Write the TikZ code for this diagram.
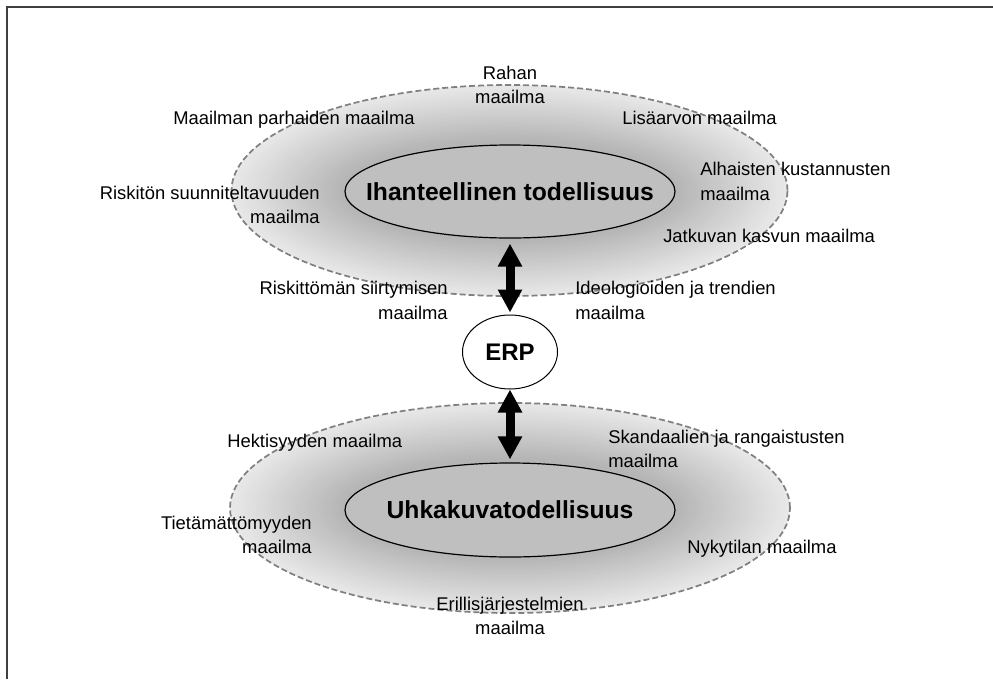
\documentclass[tikz,border=0pt]{standalone}
\usepackage{fontspec}
\setmainfont{Liberation Sans}
\usetikzlibrary{shapes.geometric,arrows.meta}
\begin{document}
\begin{tikzpicture}[x=0.75pt,y=-0.75pt,
  world/.style={ellipse, draw=black!50, line width=1.3pt,
    dash pattern=on 4.5pt off 2.25pt, inner sep=0pt},
  core/.style={ellipse, draw=black, line width=0.9pt, fill=black!25, inner sep=0pt},
  corelabel/.style={inner sep=0pt, font=\fontsize{18.5}{22}\selectfont\bfseries},
  hub/.style={ellipse, draw=black, line width=0.75pt, fill=white, inner sep=0pt},
  hublabel/.style={inner sep=0pt, font=\fontsize{18}{22}\selectfont\bfseries},
  lbl/.style={inner sep=0pt, font=\fontsize{13.8}{18.5}\selectfont},
  bigarrow/.style={line width=6.75pt,
    {Triangle[length=17.25pt,width=17.25pt]}-{Triangle[length=17.25pt,width=17.25pt]}},
  frame/.style={draw=black!75, line width=1.5pt}]
\useasboundingbox (0,0) rectangle (993,679);

% open frame along the left and top edges
\coordinate (fa) at (7,679);
\coordinate (fb) at (7,7);
\coordinate (fc) at (993,7);
\draw[frame] (fa) -- (fb) -- (fc);

\coordinate (idealc) at (509.5,190.5);
\coordinate (threatc) at (510,508);

% gray halo around each core: nested ellipses, light at the rim, darker inward
\foreach \c/\ox/\oy in {idealc/208.5/79.1, threatc/210/78.75}{
  \foreach \i in {0,...,30}{
    \pgfmathsetmacro\f{\i/30}
    \pgfmathsetmacro\rx{\ox - \f*(\ox-126)}
    \pgfmathsetmacro\ry{\oy - \f*(\oy-38)}
    \pgfmathsetmacro\g{9 + \f*20}
    \fill[black!\g] (\c) ellipse [x radius=\rx pt, y radius=\ry pt];
  }
}

% upper world
\node[world, minimum width=417pt, minimum height=158.25pt] (ideal) at (idealc) {};
\node[core, minimum width=247.5pt, minimum height=69.75pt] (ihan) at (510,191.5) {};
\node[corelabel] (ihanlbl) at (ihan.center) {Ihanteellinen todellisuus};

% lower world
\node[world, minimum width=420pt, minimum height=157.5pt] (threat) at (threatc) {};
\node[core, minimum width=247.5pt, minimum height=70.5pt] (uhka) at (510,510) {};
\node[corelabel] (uhkalbl) at (uhka.center) {Uhkakuvatodellisuus};

% ERP in between
\node[hub, minimum width=71.25pt, minimum height=55.5pt] (erp) at (510,352) {};
\node[hublabel] (erplbl) at (erp.center) {ERP};

\draw[bigarrow, shorten <=3.75pt, shorten >=1.5pt] (ihan.south) -- (erp.north);
\draw[bigarrow, shorten >=2.25pt] (erp.south) -- (uhka.north);

% labels of the upper world
\node[lbl, anchor=north, align=center] (rahan) at (510,65.5) {Rahan\\maailma};
\node[lbl, anchor=north west] (parhaat) at (173,110.5) {Maailman parhaiden maailma};
\node[lbl, anchor=north west] (lisaarvo) at (622,110.5) {Lisäarvon maailma};
\node[lbl, anchor=north west, align=left] (alhaiset) at (700,162) {Alhaisten kustannusten\\maailma};
\node[lbl, anchor=north east, align=right] (riskiton) at (320,185.5) {Riskitön suunniteltavuuden\\maailma};
\node[lbl, anchor=north west] (jatkuva) at (663,229) {Jatkuvan kasvun maailma};
\node[lbl, anchor=north east, align=right] (siirtyma) at (448,281) {Riskittömän siirtymisen\\maailma};
\node[lbl, anchor=north west, align=left] (ideologia) at (575,281) {Ideologioiden ja trendien\\maailma};

% labels of the lower world
\node[lbl, anchor=north west] (hektinen) at (227,433.5) {Hektisyyden maailma};
\node[lbl, anchor=north west, align=left] (skandaali) at (608,429.5) {Skandaalien ja rangaistusten\\maailma};
\node[lbl, anchor=north east, align=right] (tieto) at (312,515.5) {Tietämättömyyden\\maailma};
\node[lbl, anchor=north west] (nykytila) at (687,539.5) {Nykytilan maailma};
\node[lbl, anchor=north, align=center] (erillis) at (510,596.5) {Erillisjärjestelmien\\maailma};
\end{tikzpicture}
\end{document}
